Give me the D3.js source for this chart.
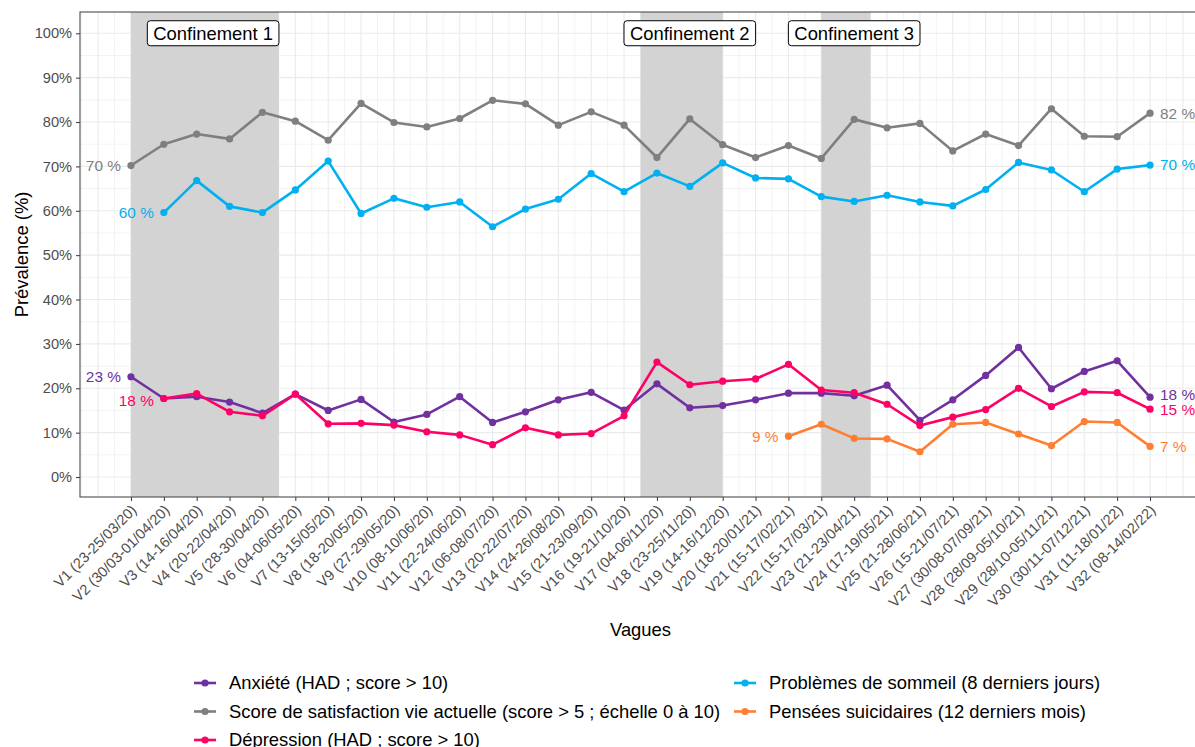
<!DOCTYPE html>
<html>
<head>
<meta charset="utf-8">
<script src="https://cdn.jsdelivr.net/npm/d3@7"></script>
<style>
  body { margin: 0; background: #fff; }
  svg { display: block; font-family: "Liberation Sans", Arial, sans-serif; }
</style>
</head>
<body>
<svg id="chart"></svg>
<script>
'use strict';

const vagues = [
    'V1 (23-25/03/20)', 'V2 (30/03-01/04/20)', 'V3 (14-16/04/20)', 'V4 (20-22/04/20)',
    'V5 (28-30/04/20)', 'V6 (04-06/05/20)', 'V7 (13-15/05/20)', 'V8 (18-20/05/20)',
    'V9 (27-29/05/20)', 'V10 (08-10/06/20)', 'V11 (22-24/06/20)', 'V12 (06-08/07/20)',
    'V13 (20-22/07/20)', 'V14 (24-26/08/20)', 'V15 (21-23/09/20)', 'V16 (19-21/10/20)',
    'V17 (04-06/11/20)', 'V18 (23-25/11/20)', 'V19 (14-16/12/20)', 'V20 (18-20/01/21)',
    'V21 (15-17/02/21)', 'V22 (15-17/03/21)', 'V23 (21-23/04/21)', 'V24 (17-19/05/21)',
    'V25 (21-28/06/21)', 'V26 (15-21/07/21)', 'V27 (30/08-07/09/21)', 'V28 (28/09-05/10/21)',
    'V29 (28/10-05/11/21)', 'V30 (30/11-07/12/21)', 'V31 (11-18/01/22)', 'V32 (08-14/02/22)'
];

const anxiete = [22.6, 17.7, 18.1, 16.9, 14.4, 18.7, 15.0, 17.5, 12.4, 14.1, 18.1, 12.3, 14.7, 17.4, 19.1, 15.1,
    21.0, 15.6, 16.1, 17.4, 18.9, 18.9, 18.3, 20.7, 12.8, 17.4, 22.9, 29.2, 19.9, 23.8, 26.2, 18.0];
const satisfaction = [70.2, 75.0, 77.3, 76.2, 82.2, 80.2, 75.9, 84.2, 79.9, 78.9, 80.8, 84.9, 84.1, 79.3, 82.3, 79.3,
    72.0, 80.7, 74.9, 72.0, 74.7, 71.8, 80.6, 78.7, 79.7, 73.5, 77.3, 74.7, 83.0, 76.8, 76.7, 82.0];
const depression = [null, 17.7, 18.8, 14.7, 13.8, 18.7, 12.0, 12.1, 11.7, 10.2, 9.5, 7.3, 11.1, 9.5, 9.8, 13.8,
    25.9, 20.8, 21.6, 22.1, 25.4, 19.6, 19.0, 16.4, 11.6, 13.5, 15.2, 20.0, 15.9, 19.2, 19.0, 15.3];
const sommeil = [null, 59.6, 66.8, 61.0, 59.6, 64.7, 71.2, 59.4, 62.8, 60.8, 62.0, 56.4, 60.4, 62.6, 68.4, 64.3,
    68.5, 65.5, 70.8, 67.4, 67.2, 63.2, 62.1, 63.5, 62.0, 61.1, 64.8, 70.9, 69.2, 64.3, 69.4, 70.3];
const suicidaires = [null, null, null, null, null, null, null, null, null, null, null, null, null, null, null, null,
    null, null, null, null, 9.2, 11.9, 8.7, 8.6, 5.7, 11.9, 12.3, 9.7, 7.1, 12.5, 12.3, 6.9];

const seriesNames = [
    'Anxiété (HAD ; score > 10)',
    'Score de satisfaction vie actuelle (score > 5 ; échelle 0 à 10)',
    'Dépression (HAD ; score > 10)',
    'Problèmes de sommeil (8 derniers jours)',
    'Pensées suicidaires (12 derniers mois)'
];
const seriesColors = ['#7030A0', '#7F7F7F', '#FF0066', '#00B0F0', '#FF7F32'];
const seriesValues = [anxiete, satisfaction, depression, sommeil, suicidaires];

const confLabels = ['Confinement 1', 'Confinement 2', 'Confinement 3'];
const confStart = [1, 16.5, 22];
const confEnd = [5.5, 19, 23.5];
const confLabelPos = [3.5, 18, 23];

const yTicks = [0, 10, 20, 30, 40, 50, 60, 70, 80, 90, 100];

const width = 1195;
const height = 747;
const panel = {left: 80, right: 1201, top: 12, bottom: 497};

const svg = d3.select('#chart')
    .attr('width', width)
    .attr('height', height);

const x = d3.scaleLinear()
    .domain([-0.55, 33.55])
    .range([panel.left, panel.right]);

const y = d3.scaleLinear()
    .domain([-4.5, 104.8])
    .range([panel.bottom, panel.top]);

// grille
const grid = svg.append('g');
d3.range(-0.5, 34, 1).forEach(function (v) {
    grid.append('line')
        .attr('x1', x(v)).attr('x2', x(v))
        .attr('y1', panel.top).attr('y2', panel.bottom)
        .attr('stroke', '#EBEBEB').attr('stroke-width', 0.6);
});
d3.range(5, 105, 10).forEach(function (v) {
    grid.append('line')
        .attr('x1', panel.left).attr('x2', panel.right)
        .attr('y1', y(v)).attr('y2', y(v))
        .attr('stroke', '#EBEBEB').attr('stroke-width', 0.6);
});
d3.range(0, 34, 1).forEach(function (v) {
    grid.append('line')
        .attr('x1', x(v)).attr('x2', x(v))
        .attr('y1', panel.top).attr('y2', panel.bottom)
        .attr('stroke', '#EBEBEB').attr('stroke-width', 1.1);
});
yTicks.forEach(function (v) {
    grid.append('line')
        .attr('x1', panel.left).attr('x2', panel.right)
        .attr('y1', y(v)).attr('y2', y(v))
        .attr('stroke', '#EBEBEB').attr('stroke-width', 1.1);
});

// confinements
svg.append('g')
    .selectAll('rect')
    .data(confStart)
    .join('rect')
    .attr('x', (d) => x(d))
    .attr('width', (d, i) => x(confEnd[i]) - x(d))
    .attr('y', panel.top)
    .attr('height', panel.bottom - panel.top)
    .attr('fill', '#D3D3D3');

// axes
const yAxis = svg.append('g')
    .attr('transform', `translate(${panel.left},0)`)
    .call(d3.axisLeft(y)
        .tickValues(yTicks)
        .tickSize(4)
        .tickPadding(4)
        .tickFormat((d) => d + '%'));

yAxis.select('.domain').remove();
yAxis.selectAll('.tick line').attr('stroke', '#333');
yAxis.selectAll('.tick text')
    .attr('fill', '#4D4D4D')
    .style('font-size', '14.6px');

const xAxis = svg.append('g')
    .attr('transform', `translate(0,${panel.bottom})`)
    .call(d3.axisBottom(x)
        .tickValues(d3.range(1, 33))
        .tickSize(4)
        .tickFormat((d) => vagues[d - 1]));

xAxis.select('.domain').remove();
xAxis.selectAll('.tick line').attr('stroke', '#333');
xAxis.selectAll('.tick text')
    .attr('fill', '#4D4D4D')
    .style('font-size', '14.6px')
    .attr('text-anchor', 'end')
    .attr('y', 0)
    .attr('dy', 0)
    .attr('transform', 'translate(6,14) rotate(-45)');

// cadre
svg.append('rect')
    .attr('x', panel.left)
    .attr('y', panel.top)
    .attr('width', panel.right - panel.left)
    .attr('height', panel.bottom - panel.top)
    .attr('fill', 'none')
    .attr('stroke', '#4D4D4D')
    .attr('stroke-width', 1.1);

// séries
const line = d3.line()
    .defined((d) => d !== null)
    .x((d, i) => x(i + 1))
    .y((d) => y(d));

// petits décalages verticaux des étiquettes de début / fin
const firstNudge = [0, 0, 2, 0, 0];
const lastNudge = [-3, 0, 0, 0, 0];

seriesValues.forEach(function (values, s) {
    const color = seriesColors[s];
    const g = svg.append('g');

    g.append('path')
        .datum(values)
        .attr('d', line)
        .attr('fill', 'none')
        .attr('stroke', color)
        .attr('stroke-width', 2.6)
        .attr('stroke-linejoin', 'round');

    const pts = values.map((v, i) => ({v: v, i: i})).filter((d) => d.v !== null);

    g.selectAll('circle')
        .data(pts)
        .join('circle')
        .attr('cx', (d) => x(d.i + 1))
        .attr('cy', (d) => y(d.v))
        .attr('r', 3.6)
        .attr('fill', color);

    const first = pts[0];
    const last = pts[pts.length - 1];

    g.append('text')
        .attr('x', x(first.i + 1) - 10)
        .attr('y', y(first.v) + firstNudge[s])
        .attr('dy', '0.35em')
        .attr('text-anchor', 'end')
        .attr('fill', color)
        .style('font-size', '15.4px')
        .text(Math.round(first.v) + ' %');

    g.append('text')
        .attr('x', x(last.i + 1) + 10)
        .attr('y', y(last.v) + lastNudge[s])
        .attr('dy', '0.35em')
        .attr('fill', color)
        .style('font-size', '15.4px')
        .text(Math.round(last.v) + ' %');
});

// étiquettes des confinements
const labels = svg.append('g');
confLabels.forEach(function (txt, i) {
    const t = labels.append('text')
        .attr('x', x(confLabelPos[i]))
        .attr('y', y(100))
        .attr('dy', '0.35em')
        .attr('text-anchor', 'middle')
        .attr('fill', '#000')
        .style('font-size', '18.4px')
        .text(txt);
    const b = t.node().getBBox();
    labels.insert('rect', 'text')
        .attr('x', b.x - 6)
        .attr('y', b.y - 2)
        .attr('width', b.width + 12)
        .attr('height', b.height + 4)
        .attr('rx', 3)
        .attr('fill', '#fff')
        .attr('stroke', '#000')
        .attr('stroke-width', 1);
});

// titres des axes
svg.append('text')
    .attr('x', (panel.left + panel.right) / 2)
    .attr('y', 636)
    .attr('text-anchor', 'middle')
    .attr('fill', '#000')
    .style('font-size', '18.4px')
    .text('Vagues');

svg.append('text')
    .attr('transform', `translate(28,${(panel.top + panel.bottom) / 2}) rotate(-90)`)
    .attr('text-anchor', 'middle')
    .attr('fill', '#000')
    .style('font-size', '18.4px')
    .text('Prévalence (%)');

// légende
const legendCols = [194, 734];
const legendRows = [683, 711.5, 740];
const legendOrder = [0, 1, 2, 3, 4];

const legend = svg.append('g');
legendOrder.forEach(function (s, k) {
    const col = Math.floor(k / 3);
    const row = k % 3;
    const lx = legendCols[col];
    const ly = legendRows[row];
    const item = legend.append('g').attr('transform', `translate(${lx},${ly})`);
    item.append('line')
        .attr('x1', 0).attr('x2', 22)
        .attr('y1', 0).attr('y2', 0)
        .attr('stroke', seriesColors[s])
        .attr('stroke-width', 2.6);
    item.append('circle')
        .attr('cx', 11).attr('cy', 0).attr('r', 3.6)
        .attr('fill', seriesColors[s]);
    item.append('text')
        .attr('x', 35)
        .attr('dy', '0.35em')
        .attr('fill', '#000')
        .style('font-size', '18.4px')
        .text(seriesNames[s]);
});
</script>
</body>
</html>
